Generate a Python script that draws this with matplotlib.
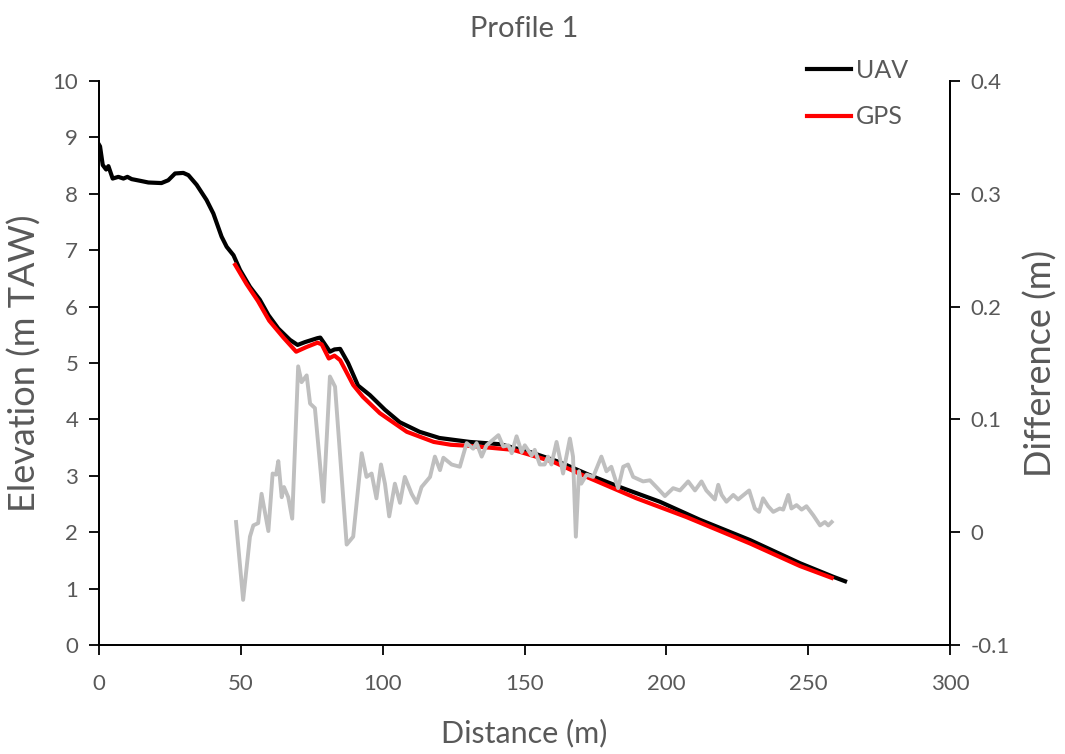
import numpy as np
import matplotlib.pyplot as plt

plt.rcParams['font.family'] = ['Lato', 'DejaVu Sans']

# UAV elevation profile (m TAW)
uav_x = [0, 0.35, 1.3, 2.5, 3.3, 4.8, 6.8, 8.6, 10, 11.5, 14.5, 17.4, 22, 24.4, 26.8,
         29.7, 31.5, 34.4, 37.9, 40.3, 43.2, 45, 47.4, 49.7, 53.2, 56.7, 59.7, 63.2,
         67.3, 70, 72.6, 77, 78, 81.4, 83, 85, 87.8, 91.3, 95.5, 100.8, 106, 113, 120,
         130.7, 141.3, 152, 162.5, 173, 183.6, 197.7, 211.8, 229.5, 247.1, 258.8, 263]
uav_y = [8.87, 8.84, 8.51, 8.43, 8.49, 8.27, 8.30, 8.27, 8.30, 8.26, 8.23, 8.20, 8.19,
         8.24, 8.36, 8.37, 8.33, 8.16, 7.89, 7.65, 7.24, 7.06, 6.91, 6.65, 6.35, 6.12,
         5.85, 5.61, 5.41, 5.32, 5.37, 5.44, 5.45, 5.20, 5.24, 5.25, 5.00, 4.60, 4.43,
         4.17, 3.95, 3.78, 3.67, 3.60, 3.56, 3.42, 3.24, 3.01, 2.80, 2.54, 2.22, 1.86,
         1.45, 1.21, 1.13]

# GPS elevation profile (m TAW)
gps_x = [48, 52, 56, 60, 65, 69.5, 73, 77, 78.5, 81, 83, 85, 89.6, 93, 99, 108.5, 118,
         124, 130.8, 146, 160, 171.9, 189.5, 207, 211.8, 229.5, 247.1, 258.3]
gps_y = [6.74, 6.40, 6.10, 5.75, 5.45, 5.20, 5.28, 5.36, 5.33, 5.08, 5.13, 5.05, 4.61,
         4.40, 4.11, 3.78, 3.60, 3.55, 3.53, 3.46, 3.25, 2.98, 2.60, 2.27, 2.17, 1.80,
         1.40, 1.19]

# Difference (m)
diff_x = [48.3, 50.8, 53.2, 54.4, 56.1, 57.3, 59.7, 61.2, 62.4, 63.2, 64.4, 65.2, 66.7,
          68.1, 70.2, 71.4, 73.2, 74.4, 76.1, 79.1, 81.4, 83.2, 87.3, 89.6, 92.6, 94.3,
          96.1, 97.8, 99.4, 100.8, 102.3, 104.3, 106.1, 107.8, 110.2, 112, 113.7, 116.7,
          118.4, 120.2, 121.4, 124.3, 127.2, 129.6, 131.9, 133.1, 134.9, 136.6, 140.8,
          142.5, 144.3, 145.5, 147.2, 149, 150.1, 152.5, 153.6, 155.4, 157.1, 158.3,
          159.5, 161.3, 163.6, 166, 167.1, 168.1, 169.2, 170, 171.9, 174.2, 177.1, 178.9,
          180.6, 183, 184.8, 186.5, 188.3, 191.8, 194.2, 196.5, 199.5, 202.4, 204.8,
          207.7, 210.1, 212.4, 214.1, 217.1, 218.3, 219.5, 221.2, 223.6, 225.3, 229.2,
          231.2, 232.7, 234.1, 235.9, 237.7, 240, 241.2, 243, 244.1, 245.9, 247.7, 249.4,
          251.8, 254.2, 255.9, 257.1, 258.3]
diff_y = [0.009, -0.060, -0.004, 0.006, 0.008, 0.034, 0.001, 0.052, 0.051, 0.063, 0.031,
          0.040, 0.031, 0.012, 0.147, 0.133, 0.139, 0.114, 0.110, 0.027, 0.138, 0.129,
          -0.011, -0.004, 0.070, 0.049, 0.052, 0.030, 0.060, 0.043, 0.014, 0.043, 0.026,
          0.049, 0.034, 0.026, 0.040, 0.049, 0.067, 0.055, 0.066, 0.060, 0.058, 0.079,
          0.074, 0.079, 0.067, 0.077, 0.086, 0.076, 0.077, 0.070, 0.085, 0.071, 0.077,
          0.068, 0.073, 0.060, 0.060, 0.067, 0.060, 0.080, 0.052, 0.083, 0.067, -0.004,
          0.054, 0.043, 0.051, 0.049, 0.067, 0.054, 0.058, 0.039, 0.058, 0.060, 0.049,
          0.045, 0.046, 0.040, 0.032, 0.039, 0.037, 0.045, 0.037, 0.045, 0.037, 0.029,
          0.042, 0.033, 0.027, 0.033, 0.029, 0.037, 0.021, 0.018, 0.030, 0.023, 0.018,
          0.021, 0.020, 0.033, 0.021, 0.024, 0.020, 0.023, 0.015, 0.006, 0.009, 0.006,
          0.009]

txt = '#595959'

fig = plt.figure(figsize=(10.65, 7.54), dpi=100)
ax = fig.add_axes([0.093, 0.1446, 0.799, 0.748])
ax2 = ax.twinx()

ax.plot(uav_x, uav_y, color='black', lw=3, label='UAV')
ax.plot(gps_x, gps_y, color='#ff0000', lw=3, label='GPS')
ax2.plot(diff_x, diff_y, color='#bfbfbf', lw=2.8)

ax.set_xlim(0, 300)
ax.set_ylim(0, 10)
ax2.set_ylim(-0.1, 0.4)
ax.set_xticks(np.arange(0, 301, 50))
ax.set_yticks(np.arange(0, 11, 1))
ax2.set_yticks([-0.1, 0, 0.1, 0.2, 0.3, 0.4])
ax2.set_yticklabels(['-0.1', '0', '0.1', '0.2', '0.3', '0.4'])

for a in (ax, ax2):
    a.tick_params(direction='out', length=7, width=1.3, labelsize=16, labelcolor=txt, pad=8)
    for s in a.spines.values():
        s.set_linewidth(1.3)
ax.tick_params(axis='x', pad=14)
ax.spines['top'].set_visible(False)
ax2.spines['top'].set_visible(False)

ax.set_xlabel('Distance (m)', fontsize=22, color=txt, labelpad=18)
ax.set_ylabel('Elevation (m TAW)', fontsize=26, color=txt, labelpad=8)
ax2.set_ylabel('Difference (m)', fontsize=26, color=txt, labelpad=10)
ax.set_title('Profile 1', fontsize=21, color=txt, pad=32)

leg = ax.legend(loc='upper left', bbox_to_anchor=(0.737, 0.952),
                bbox_transform=fig.transFigure, frameon=False,
                fontsize=18, handlelength=1.75, labelspacing=0.95, handletextpad=0.2)
for t in leg.get_texts():
    t.set_color(txt)

fig.savefig('out.png', dpi=100)
